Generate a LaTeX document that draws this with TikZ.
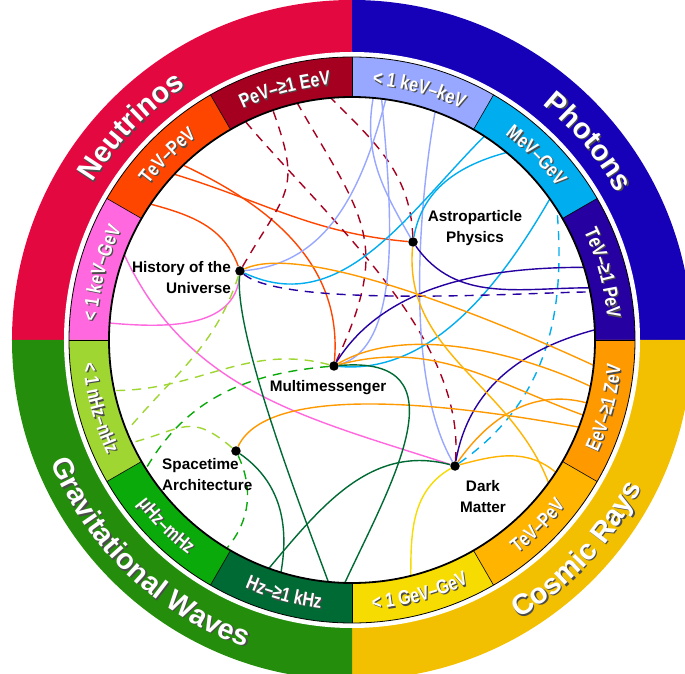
\documentclass[tikz,border=0pt]{standalone}
\usepackage{fontspec}
\setmainfont{Liberation Sans}
\newfontfamily\narrowsans{Liberation Sans}[FakeStretch=0.8]
\usetikzlibrary{decorations.text}

\definecolor{nucol}{RGB}{228,8,65}
\definecolor{phcol}{RGB}{22,0,184}
\definecolor{crcol}{RGB}{242,192,0}
\definecolor{gwcol}{RGB}{36,142,12}
\definecolor{pevcol}{RGB}{166,0,32}
\definecolor{tevnucol}{RGB}{255,70,0}
\definecolor{kevnucol}{RGB}{255,104,222}
\definecolor{kevphcol}{RGB}{152,167,255}
\definecolor{mevcol}{RGB}{0,174,240}
\definecolor{tevphcol}{RGB}{38,0,160}
\definecolor{eevcol}{RGB}{255,153,0}
\definecolor{tevcrcol}{RGB}{255,180,0}
\definecolor{gevcol}{RGB}{246,220,0}
\definecolor{hzcol}{RGB}{0,106,52}
\definecolor{muhzcol}{RGB}{10,170,10}
\definecolor{nhzcol}{RGB}{160,214,50}

\newcommand\ringfont{\bfseries\fontsize{29}{30}\selectfont}
\newcommand\bandfont{\narrowsans\bfseries\fontsize{20}{20}\selectfont}
\newcommand\ringlabel[4]{%
  \path[decorate, decoration={text along path, text align=center,
    text color=black!70, text={#4}}, shift={(1.3,-1.3)}]
    (#1:#3) arc[start angle=#1, end angle=#2, radius=#3];
  \path[decorate, decoration={text along path, text align=center,
    text color=white, text={#4}}]
    (#1:#3) arc[start angle=#1, end angle=#2, radius=#3];}

\tikzset{
  msgdot/.style={circle, fill=black, inner sep=0pt, minimum size=9.5pt},
  msglabel/.style={font=\bfseries\fontsize{15.3}{21}\selectfont, inner sep=0pt},
  conn/.style={line width=1.4pt},
  dconn/.style={line width=1.4pt, dash pattern=on 9pt off 7pt},
}

\begin{document}
\begin{tikzpicture}[x=1pt, y=1pt]
\useasboundingbox (-352,-334) rectangle (333,340);

% Anneau exterieur
\fill[nucol] (0,0) -- (90:340pt) arc[start angle=90, end angle=180, radius=340pt] -- cycle;
\fill[phcol] (0,0) -- (0:340pt) arc[start angle=0, end angle=90, radius=340pt] -- cycle;
\fill[crcol] (0,0) -- (-90:340pt) arc[start angle=-90, end angle=0, radius=340pt] -- cycle;
\fill[gwcol] (0,0) -- (180:340pt) arc[start angle=180, end angle=270, radius=340pt] -- cycle;
\fill[white] (0,0) circle[radius=288pt];

% Bandes d'energie
\foreach \a/\c in {90/pevcol, 120/tevnucol, 150/kevnucol, 60/kevphcol, 30/mevcol, 0/tevphcol,
                   -30/eevcol, -60/tevcrcol, -90/gevcol, -120/hzcol, -150/muhzcol, -180/nhzcol}
  \fill[\c] (\a:243pt) arc[start angle=\a, end angle=\a+30, radius=243pt]
    -- ({\a+30}:283pt) arc[start angle=\a+30, end angle=\a, radius=283pt] -- cycle;
\fill[white] (0,0) circle[radius=243pt];
\draw[line width=0.8pt] (0,0) circle[radius=283pt];
\foreach \a in {0,30,...,330}
  \draw[line width=0.6pt] (\a:243pt) -- (\a:283pt);

% Noeuds
\node[msgdot] (H) at (-112,69) {};
\node[msgdot] (A) at (61,98) {};
\node[msgdot] (M) at (-18,-26) {};
\node[msgdot] (S) at (-116,-111) {};
\node[msgdot] (D) at (103,-126) {};

% Extremites sur le cercle
\coordinate (tevnu1) at (146:243pt);
\coordinate (tevnu2) at (137:243pt);
\coordinate (tevnu3) at (134:243pt);
\coordinate (pev1) at (109:243pt);
\coordinate (pev2) at (103:243pt);
\coordinate (pev3) at (95:243pt);
\coordinate (pev4) at (116:243pt);
\coordinate (kevnu1) at (176:243pt);
\coordinate (kevnu2) at (159.5:243pt);
\coordinate (kevph1) at (82:243pt);
\coordinate (kevph2) at (85:243pt);
\coordinate (kevph3) at (83:243pt);
\coordinate (kevph4) at (70:243pt);
\coordinate (mev1) at (57:243pt);
\coordinate (mev2) at (50.5:243pt);
\coordinate (mev3) at (35.5:243pt);
\coordinate (mev4) at (32.5:243pt);
\coordinate (tevph1) at (12.4:243pt);
\coordinate (tevph2) at (17.4:243pt);
\coordinate (tevph3) at (11.4:243pt);
\coordinate (tevph4) at (2.4:243pt);
\coordinate (eev1) at (-6:243pt);
\coordinate (eev2) at (-11:243pt);
\coordinate (eev3) at (-18:243pt);
\coordinate (eev4) at (-21:243pt);
\coordinate (eev5) at (-15:243pt);
\coordinate (tevcr1) at (-36:243pt);
\coordinate (tevcr2) at (-33:243pt);
\coordinate (gev1) at (-76:243pt);
\coordinate (hz1) at (-95.6:243pt);
\coordinate (hz2) at (-91.7:243pt);
\coordinate (hz3) at (-107:243pt);
\coordinate (hz4) at (-110:243pt);
\coordinate (muhz1) at (-148:243pt);
\coordinate (muhz2) at (-121:243pt);
\coordinate (nhz1) at (-158:243pt);
\coordinate (nhz2) at (-155:243pt);
\coordinate (nhz3) at (-168:243pt);

% Aretes
\draw[conn, tevnucol] (H) to[out=110, in=-15] (tevnu1);
\draw[conn, tevnucol] (A) to[out=175, in=-17] (tevnu2);
\draw[conn, tevnucol] (M) to[out=85, in=-25] (tevnu3);

\draw[dconn, pevcol] (H) to[out=60, in=-70, looseness=1.4] (pev1);
\draw[dconn, pevcol] (M) to[out=65, in=-60, looseness=1.3] (pev2);
\draw[dconn, pevcol] (A) to[out=92, in=-45] (pev3);
\draw[dconn, pevcol] (D) to[out=85, in=-50, looseness=0.8] (pev4);

\draw[conn, kevnucol] (H) to[out=-95, in=-5] (kevnu1);
\draw[conn, kevnucol] (D) to[out=162, in=-65] (kevnu2);

\draw[conn, kevphcol] (H) to[out=5, in=-105] (kevph1);
\draw[conn, kevphcol] (A) to[out=120, in=-100] (kevph2);
\draw[conn, kevphcol] (M) to[out=15, in=-85, out looseness=0.65] (kevph3);
\draw[conn, kevphcol] (D) to[out=120, in=-100, looseness=0.7] (kevph4);

\draw[conn, mevcol] (H) to[out=-25, in=-135] (mev1);
\draw[conn, mevcol] (A) to[out=80, in=-165] (mev2);
\draw[conn, mevcol] (M) to[out=-5, in=-120, looseness=0.9] (mev3);
\draw[dconn, mevcol] (D) to[out=35, in=-85] (mev4);

\draw[conn, tevphcol] (A) to[out=-55, in=180] (tevph1);
\draw[conn, tevphcol] (M) to[out=58, in=180, looseness=0.9] (tevph2);
\draw[dconn, tevphcol] (H) to[out=-40, in=180, looseness=0.4] (tevph3);
\draw[conn, tevphcol] (D) to[out=80, in=-165] (tevph4);

\draw[conn, eevcol] (H) to[out=25, in=155, looseness=0.5] (eev1);
\draw[conn, eevcol] (M) to[out=30, in=155, looseness=0.8] (eev2);
\draw[conn, eevcol] (M) to[out=15, in=160] (eev3);
\draw[conn, eevcol] (S) to[out=65, in=170, looseness=0.6] (eev4);
\draw[conn, eevcol] (D) to[out=55, in=165] (eev5);

\draw[conn, tevcrcol] (A) to[out=-95, in=111] (tevcr1);
\draw[conn, tevcrcol] (D) to[out=15, in=140] (tevcr2);

\draw[conn, gevcol] (D) to[out=-150, in=90] (gev1);

\draw[conn, hzcol] (H) to[out=-95, in=110, looseness=0.5] (hz1);
\draw[conn, hzcol] (M) to[out=5, in=65, out looseness=1.5, in looseness=1.3] (hz2);
\draw[conn, hzcol] (S) to[out=-35, in=80] (hz3);
\draw[conn, hzcol] (D) to[out=165, in=50] (hz4);

\draw[dconn, muhzcol] (M) to[out=185, in=60] (muhz1);
\draw[dconn, muhzcol] (S) to[out=-65, in=50] (muhz2);

\draw[dconn, nhzcol] (H) to[out=-108, in=50] (nhz1);
\draw[dconn, nhzcol] (S) to[out=140, in=15, looseness=1.4] (nhz2);
\draw[dconn, nhzcol] (M) to[out=165, in=0] (nhz3);

\draw[line width=1.8pt] (0,0) circle[radius=243pt];

% Textes
\node[msglabel, anchor=east, align=right] (Htxt) at (-121,62) {History of the\\Universe};
\node[msglabel, align=center] (Atxt) at (123,112) {Astroparticle\\Physics};
\node[msglabel] (Mtxt) at (-24,-48) {Multimessenger};
\node[msglabel, anchor=west, align=left] (Stxt) at (-190,-135) {Spacetime\\Architecture};
\node[msglabel, align=center] (Dtxt) at (131,-157) {Dark\\Matter};

\ringlabel{166}{106}{303pt}{|\ringfont|Neutrinos}
\ringlabel{70}{10}{303pt}{|\ringfont|Photons}
\ringlabel{-73}{-13}{325pt}{|\ringfont|Cosmic Rays}
\ringlabel{-163.5}{-103.5}{325pt}{|\ringfont|Gravitational Waves}

\ringlabel{120}{90}{256pt}{|\bandfont|PeV–≥1 EeV}
\ringlabel{150}{120}{256pt}{|\bandfont|TeV–PeV}
\ringlabel{180}{150}{256pt}{|\bandfont|< 1 keV–GeV}
\ringlabel{90}{60}{256pt}{|\bandfont|< 1 keV–keV}
\ringlabel{60}{30}{256pt}{|\bandfont|MeV–GeV}
\ringlabel{30}{0}{256pt}{|\bandfont|TeV–≥1 PeV}
\ringlabel{-30}{0}{270pt}{|\bandfont|EeV–≥1 ZeV}
\ringlabel{-60}{-30}{270pt}{|\bandfont|TeV–PeV}
\ringlabel{-90}{-60}{270pt}{|\bandfont|< 1 GeV–GeV}
\ringlabel{-120}{-90}{270pt}{|\bandfont|Hz–≥1 kHz}
\ringlabel{-150}{-120}{270pt}{|\bandfont|μHz–mHz}
\ringlabel{-180}{-150}{270pt}{|\bandfont|< 1 nHz–nHz}

\end{tikzpicture}
\end{document}
